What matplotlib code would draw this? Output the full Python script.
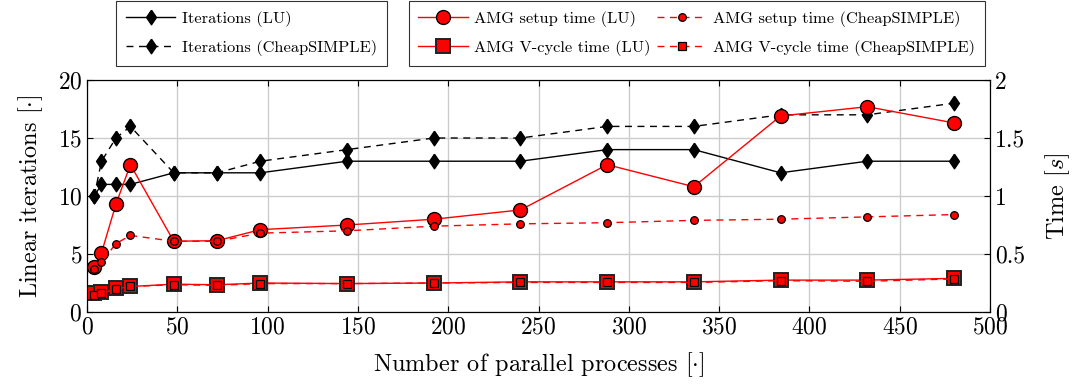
import numpy as np
import matplotlib
matplotlib.use("Agg")
import matplotlib.pyplot as plt

plt.rcParams['font.family'] = ['cmr10', 'DejaVu Serif']
plt.rcParams['mathtext.fontset'] = 'cm'
plt.rcParams['axes.formatter.use_mathtext'] = True

# datos
procs = [4, 8, 16, 24, 48, 72, 96, 144, 192, 240, 288, 336, 384, 432, 480]
iters_lu = [10, 11, 11, 11, 12, 12, 12, 13, 13, 13, 14, 14, 12, 13, 13]
iters_cs = [10, 13, 15, 16, 12, 12, 13, 14, 15, 15, 16, 16, 17, 17, 18]
setup_lu = [0.39, 0.51, 0.93, 1.27, 0.61, 0.615, 0.71, 0.75, 0.80, 0.88, 1.27, 1.08, 1.69, 1.77, 1.63]
setup_cs = [0.37, 0.43, 0.59, 0.66, 0.61, 0.61, 0.68, 0.70, 0.74, 0.76, 0.77, 0.79, 0.80, 0.82, 0.84]
vcyc_lu = [0.16, 0.17, 0.21, 0.22, 0.24, 0.235, 0.25, 0.245, 0.25, 0.26, 0.26, 0.26, 0.275, 0.275, 0.29]
vcyc_cs = [0.15, 0.16, 0.20, 0.22, 0.235, 0.23, 0.245, 0.245, 0.25, 0.255, 0.255, 0.255, 0.27, 0.265, 0.285]

# rombo como en pgfplots (mas alto que ancho)
rombo = [(0, 1), (0.68, 0), (0, -1), (-0.68, 0), (0, 1)]

fig = plt.figure(figsize=(10.8, 3.86), dpi=100)
ax = fig.add_axes([0.0806, 0.1917, 0.8361, 0.601])
ax2 = ax.twinx()

l1, = ax.plot(procs, iters_lu, '-', color='black', lw=1.0, marker=rombo, ms=10.5,
              mfc='black', mec='black', label='Iterations (LU)')
l2, = ax.plot(procs, iters_cs, '--', color='black', lw=1.0, marker=rombo, ms=10.5,
              mfc='black', mec='black', dashes=(5, 4), label='Iterations (CheapSIMPLE)')

l3, = ax2.plot(procs, setup_lu, '-', color='red', lw=1.0, marker='o', ms=10,
               mfc='red', mec='black', mew=1.0, label='AMG setup time (LU)')
l4, = ax2.plot(procs, setup_cs, '--', color='red', lw=1.0, marker='o', ms=5.5,
               mfc='red', mec='black', mew=0.9, dashes=(5, 4), label='AMG setup time (CheapSIMPLE)')
l5, = ax2.plot(procs, vcyc_lu, '-', color='red', lw=1.0, marker='s', ms=9.5,
               mfc='red', mec='#222222', mew=1.4, label='AMG V-cycle time (LU)')
l6, = ax2.plot(procs, vcyc_cs, '--', color='red', lw=1.0, marker='s', ms=6,
               mfc='red', mec='black', mew=0.9, dashes=(5, 4), label='AMG V-cycle time (CheapSIMPLE)')

ax.set_xlim(0, 500)
ax.set_ylim(0, 20)
ax2.set_ylim(0, 2)
ax.set_xticks(np.arange(0, 501, 50))
ax.set_yticks(np.arange(0, 21, 5))
ax2.set_yticks([0, 0.5, 1, 1.5, 2])
ax2.set_yticklabels(['0', '0.5', '1', '1.5', '2'])
ax.grid(True, color='#cccccc', lw=1.0)
ax.set_axisbelow(True)

ax.tick_params(direction='in', labelsize=17, length=4, top=True)
ax2.tick_params(direction='in', labelsize=17, length=4)

ax.set_xlabel(r'Number of parallel processes $[\cdot]$', fontsize=17.5, labelpad=8)
ax.set_ylabel(r'Linear iterations $[\cdot]$', fontsize=17.5, labelpad=9)
ax2.set_ylabel(r'Time $[s]$', fontsize=17.5, labelpad=13)

leg_kw = dict(fontsize=11.8, frameon=True, fancybox=False, edgecolor='black',
              handlelength=3.0, handletextpad=0.4, markerscale=1.0, borderpad=0.6,
              labelspacing=0.8, borderaxespad=0.05)
leg1 = fig.legend(handles=[l1, l2], loc='upper center', bbox_to_anchor=(0.233, 1.0), **leg_kw)
leg2 = fig.legend(handles=[l3, l5, l4, l6], loc='upper center', bbox_to_anchor=(0.645, 1.0),
                  ncol=2, columnspacing=0.4, **leg_kw)
for lg in (leg1, leg2):
    lg.get_frame().set_linewidth(0.8)

fig.savefig('out.png', dpi=100)
